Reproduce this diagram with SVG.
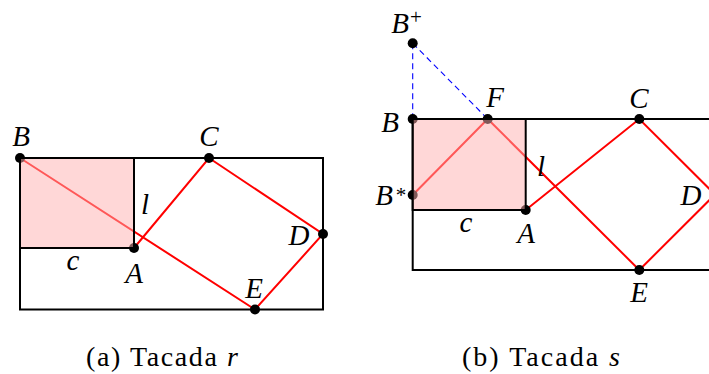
<svg xmlns="http://www.w3.org/2000/svg" width="709" height="374" viewBox="0 0 709 374">
<style>
.frame{fill:none;stroke:#000;stroke-width:2;stroke-linejoin:miter}
.red{fill:none;stroke:#ff0000;stroke-width:2;stroke-linecap:round}
.blue{fill:none;stroke:#0000ff;stroke-width:1.1;stroke-dasharray:6 4}
.pink{fill:#ffb0b0;fill-opacity:0.5;stroke:none}
.dot{fill:#000}
</style>
<rect width="709" height="374" fill="#fff"/>

<g id="panel-a" font-family="Liberation Serif, DejaVu Serif, serif" fill="#000">
  <g id="frame-a"><rect class="frame" x="20" y="158" width="303" height="151.5"/></g>
  <g id="connectors-a">
    <polyline class="red" points="20,158 255,309.5 323,234 209,158 134,248"/>
  </g>
  <g font-style="italic" font-size="29" text-anchor="middle">
  <g id="node-B-a"><circle class="dot" cx="20" cy="158" r="5"/><text x="21" y="146">B</text></g>
  <g id="node-C-a"><circle class="dot" cx="209" cy="158" r="5"/><text x="209" y="146">C</text></g>
  <g id="node-D-a"><circle class="dot" cx="323" cy="234" r="5"/><text x="299" y="245">D</text></g>
  <g id="node-E-a"><circle class="dot" cx="255" cy="309.5" r="5"/><text x="254" y="298">E</text></g>
  <g id="node-A-a"><circle class="dot" cx="134" cy="248" r="5"/><text x="134" y="283">A</text></g>
  <g id="square-a">
    <rect class="pink" x="20" y="158" width="114" height="90"/>
    <rect class="frame" x="20" y="158" width="114" height="90"/>
    <text x="145" y="214">l</text>
    <text x="73" y="270">c</text>
  </g>
  </g>
  <text x="162" y="366" font-size="28" text-anchor="middle" textLength="152" lengthAdjust="spacing">(a) Tacada <tspan font-style="italic">r</tspan></text>
</g>

<g id="panel-b" font-family="Liberation Serif, DejaVu Serif, serif" fill="#000">
  <g id="frame-b"><rect class="frame" x="412.7" y="119" width="302.3" height="151"/></g>
  <g id="connectors-b">
    <polyline class="red" points="412.7,195 487.7,119 639.3,270 715,194.5 639.3,119 525.7,210"/>
    <line class="blue" x1="412.7" y1="43.3" x2="412.7" y2="119"/>
    <line class="blue" x1="412.7" y1="43.3" x2="487.7" y2="119"/>
  </g>
  <g font-style="italic" font-size="29" text-anchor="middle">
  <g id="node-Bplus"><circle class="dot" cx="412.7" cy="43.3" r="5"/><text x="400" y="33">B</text><text x="416" y="24" font-style="normal" font-size="21">+</text></g>
  <g id="node-B-b"><circle class="dot" cx="412.7" cy="119" r="5"/><text x="390" y="132">B</text></g>
  <g id="node-F"><circle class="dot" cx="487.7" cy="119" r="5"/><text x="495" y="107">F</text></g>
  <g id="node-C-b"><circle class="dot" cx="639.3" cy="119" r="5"/><text x="639" y="108">C</text></g>
  <g id="node-Bstar"><circle class="dot" cx="412.7" cy="195" r="5"/><text x="384" y="205">B</text><text x="401" y="202" font-style="normal" font-size="21">*</text></g>
  <g id="node-A-b"><circle class="dot" cx="525.7" cy="210" r="5"/><text x="526" y="243">A</text></g>
  <g id="node-D-b"><circle class="dot" cx="715" cy="194.5" r="5"/><text x="691" y="205">D</text></g>
  <g id="node-E-b"><circle class="dot" cx="639.3" cy="270" r="5"/><text x="639" y="302">E</text></g>
  <g id="square-b">
    <rect class="pink" x="412.7" y="119" width="113" height="91"/>
    <rect class="frame" x="412.7" y="119" width="113" height="91"/>
    <text x="541" y="176">l</text>
    <text x="466" y="232">c</text>
  </g>
  </g>
  <text x="541" y="366" font-size="28" text-anchor="middle" textLength="158" lengthAdjust="spacing">(b) Tacada <tspan font-style="italic">s</tspan></text>
</g>
</svg>
